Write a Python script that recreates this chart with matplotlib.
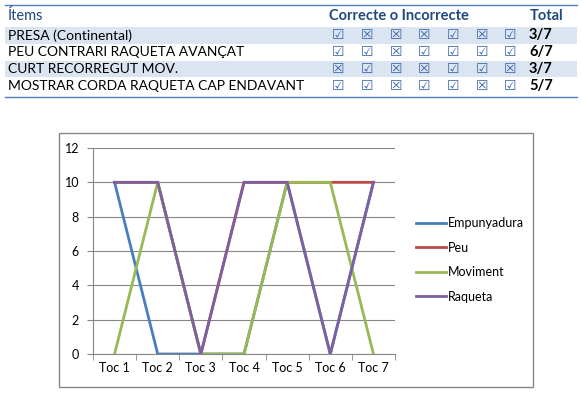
import matplotlib.pyplot as plt
from matplotlib.patches import Rectangle
from matplotlib.lines import Line2D

plt.rcParams['font.family'] = ['Lato', 'DejaVu Sans']

# table data
items = ['PRESA (Continental)', 'PEU CONTRARI RAQUETA AVANÇAT',
         'CURT RECORREGUT MOV.', 'MOSTRAR CORDA RAQUETA CAP ENDAVANT']
checks = [[1, 0, 0, 0, 1, 0, 1],
          [1, 1, 0, 1, 1, 1, 1],
          [0, 1, 0, 0, 1, 1, 0],
          [1, 1, 0, 1, 1, 0, 1]]
totals = ['3/7', '6/7', '3/7', '5/7']

# chart data
tocs = ['Toc 1', 'Toc 2', 'Toc 3', 'Toc 4', 'Toc 5', 'Toc 6', 'Toc 7']
series = ['Empunyadura', 'Peu', 'Moviment', 'Raqueta']
empunyadura = [10, 0, 0, 0, 10, 0, 10]
peu = [10, 10, 0, 10, 10, 10, 10]
moviment = [0, 10, 0, 0, 10, 10, 0]
raqueta = [10, 10, 0, 10, 10, 0, 10]
colors = ['#4A7EBB', '#BE4B48', '#98B954', '#7D60A0']

W, H = 582, 393
fig = plt.figure(figsize=(W / 100, H / 100), dpi=100)

def fx(px):
    return px / W

def fy(py):
    return 1 - py / H

# ---- table ----
hdr = '#1F497D'
fig.add_artist(Line2D([fx(5), fx(577)], [fy(5), fy(5)], color='#4F81BD', lw=1))
fig.add_artist(Line2D([fx(5), fx(577)], [fy(97), fy(97)], color='#4F81BD', lw=1))
fig.text(fx(8), fy(16), 'Ítems', color=hdr, fontsize=10.5, va='center')
fig.text(fx(399), fy(16), 'Correcte o Incorrecte', color=hdr, fontsize=10.5,
         fontweight='bold', va='center', ha='center')
fig.text(fx(530), fy(16), 'Total', color=hdr, fontsize=10.5, fontweight='bold', va='center')

row_h = 16.8
col_x = [338, 367, 396, 424, 453, 482, 510]
for i, name in enumerate(items):
    top = 27 + i * row_h
    yc = top + row_h / 2
    if i % 2 == 0:
        fig.add_artist(Rectangle((fx(5), fy(top + row_h)), fx(572), row_h / H,
                                 color='#DBE5F1', lw=0, zorder=0))
    fig.text(fx(8), fy(yc), name, fontsize=10, va='center', color='black')
    for j, c in enumerate(checks[i]):
        fig.text(fx(col_x[j]), fy(yc), '☑' if c else '☒', fontsize=10,
                 family='DejaVu Sans', color='#3A63A8', va='center', ha='center')
    fig.text(fx(529), fy(yc), totals[i], fontsize=10.5, fontweight='bold',
             va='center', color='black')

# ---- chart ----
fig.add_artist(Rectangle((fx(59), fy(387)), fx(533 - 59), (387 - 133) / H,
                         fill=False, edgecolor='#868686', lw=1))

ax = fig.add_axes([fx(93), fy(354), fx(395 - 93), (354 - 148) / H])
x = list(range(len(tocs)))
for vals, name, col in zip([empunyadura, peu, moviment, raqueta], series, colors):
    ax.plot(x, vals, color=col, lw=2, label=name, solid_joinstyle='miter')

ax.set_xlim(-0.5, 6.5)
ax.set_ylim(0, 12)
ax.set_yticks(range(0, 13, 2))
ax.set_xticks(x)
ax.set_xticklabels(tocs)
ax.set_xticks([i - 0.5 for i in range(8)], minor=True)
ax.tick_params(axis='x', which='major', length=0, labelsize=9, pad=6)
ax.tick_params(axis='x', which='minor', length=4, color='#868686', direction='out')
ax.tick_params(axis='y', length=4, color='#868686', labelsize=9, pad=6)
ax.grid(axis='y', color='#868686', lw=0.8)
ax.set_axisbelow(True)
for s in ['top', 'right']:
    ax.spines[s].set_visible(False)
for s in ['left', 'bottom']:
    ax.spines[s].set_color('#868686')

fig.legend(loc='center left', bbox_to_anchor=(fx(405), fy(260)), frameon=False,
           fontsize=9, handlelength=2.4, handletextpad=0.1, labelspacing=1.0)

fig.savefig('out.png', dpi=100)
